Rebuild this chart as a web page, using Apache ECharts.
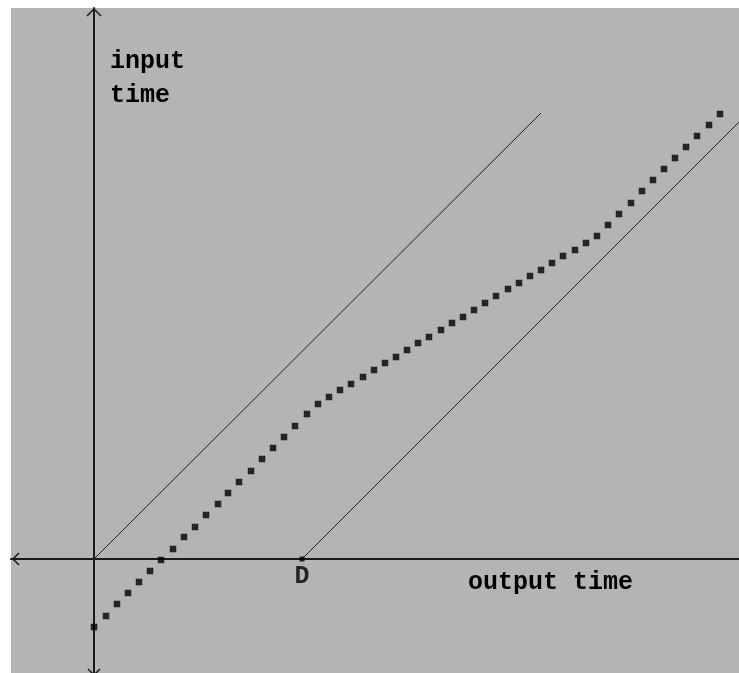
<!DOCTYPE html>
<html>
<head>
<meta charset="utf-8">
<script src="https://cdn.jsdelivr.net/npm/echarts@6/dist/echarts.min.js"></script>
<style>
html,body{margin:0;padding:0;background:#fff;}
#chart{width:739px;height:673px;}
</style>
</head>
<body>
<div id="chart"></div>
<script>
// output time (x) of each packet
var outputTimes = [0.0,1.2,2.3,3.4,4.5,5.6,6.7,7.9,9.0,10.1,11.2,12.4,13.4,14.5,15.7,16.8,17.9,19.0,20.1,21.3,
  22.4,23.5,24.6,25.7,26.9,28.0,29.1,30.2,31.3,32.4,33.5,34.7,35.8,36.9,38.0,39.1,
  40.2,41.4,42.5,43.6,44.7,45.8,46.9,48.1,49.2,50.3,51.4,52.5,53.7,54.8,55.9,57.0,58.1,59.2,60.3,61.5,62.6];
// input time (y) of each packet
var inputTimes = [-6.8,-5.7,-4.5,-3.4,-2.3,-1.2,-0.1,1.0,2.2,3.2,4.4,5.5,6.6,7.7,8.8,10.0,11.1,12.2,13.3,14.5,
  15.5,16.2,16.9,17.5,18.2,18.9,19.6,20.2,20.9,21.6,22.2,22.9,23.6,24.2,24.9,25.6,
  26.3,27.0,27.6,28.3,28.9,29.6,30.3,30.9,31.6,32.3,33.4,34.5,35.6,36.8,37.9,39.0,40.1,41.2,42.3,43.4,44.5];
// reference lines: y = x and y = x - D
var D = 20.8;
var lineA = [[0, 0], [44.7, 44.6]];
var lineB = [[D, 0], [64.5, 64.5 - D]];
var axisNames = {x: 'output time', y1: 'input', y2: 'time', d: 'D'};
var xRange = [-8.3, 64.5];
var yRange = [-11.4, 55.1];

var fontFam = '"Liberation Mono", "DejaVu Sans Mono", monospace';
var font = 'bold 25px ' + fontFam;

var chart = echarts.init(document.getElementById('chart'), null, {renderer: 'canvas'});
var pts = outputTimes.map(function (x, i) { return [x, inputTimes[i]]; });

chart.setOption({
  backgroundColor: '#ffffff',
  animation: false,
  grid: {left: 11, top: 8, right: 0, bottom: 0, show: true, backgroundColor: '#b4b4b4', borderWidth: 0},
  xAxis: {
    type: 'value', min: xRange[0], max: xRange[1],
    axisLine: {onZero: true, lineStyle: {color: '#1a1a1a', width: 2}},
    axisTick: {show: false}, axisLabel: {show: false}, splitLine: {show: false}
  },
  yAxis: {
    type: 'value', min: yRange[0], max: yRange[1],
    axisLine: {onZero: true, lineStyle: {color: '#1a1a1a', width: 2}},
    axisTick: {show: false}, axisLabel: {show: false}, splitLine: {show: false}
  },
  series: [
    {type: 'line', data: lineA, symbol: 'none', lineStyle: {color: '#222', width: 1}, z: 3},
    {type: 'line', data: lineB, symbol: 'none', lineStyle: {color: '#222', width: 1}, z: 3},
    {type: 'scatter', data: [[D, 0]], symbol: 'rect', symbolSize: 5, itemStyle: {color: '#000'}, z: 5,
      label: {show: true, position: 'bottom', distance: 3, formatter: axisNames.d, color: '#000',
        fontSize: 25, fontWeight: 'bold', fontFamily: fontFam}},
    {type: 'scatter', data: pts, symbol: 'rect', symbolSize: 6.5, itemStyle: {color: '#000'}, z: 6}
  ]
});

// open arrowheads at the axis ends
var pTop = chart.convertToPixel({gridIndex: 0}, [0, yRange[1]]);
var pLeft = chart.convertToPixel({gridIndex: 0}, [xRange[0], 0]);
var pBot = chart.convertToPixel({gridIndex: 0}, [0, yRange[0]]);
var arrowStyle = {stroke: '#1a1a1a', lineWidth: 1.5, fill: null};
chart.setOption({
  graphic: [
    {type: 'text', left: 110, top: 49, style: {text: axisNames.y1, font: font, fill: '#000'}},
    {type: 'text', left: 110, top: 83, style: {text: axisNames.y2, font: font, fill: '#000'}},
    {type: 'text', left: 468, top: 570, style: {text: axisNames.x, font: font, fill: '#000'}},
    {type: 'polyline', z: 10, shape: {points: [[pTop[0] - 7, pTop[1] + 8], [pTop[0], pTop[1] + 1], [pTop[0] + 7, pTop[1] + 8]]}, style: arrowStyle},
    {type: 'polyline', z: 10, shape: {points: [[pLeft[0] + 8, pLeft[1] - 6], [pLeft[0] + 2, pLeft[1]], [pLeft[0] + 8, pLeft[1] + 6]]}, style: arrowStyle},
    {type: 'polyline', z: 10, shape: {points: [[pBot[0] - 6, pBot[1] - 4], [pBot[0], pBot[1] + 2], [pBot[0] + 6, pBot[1] - 4]]}, style: arrowStyle}
  ]
});
</script>
</body>
</html>
